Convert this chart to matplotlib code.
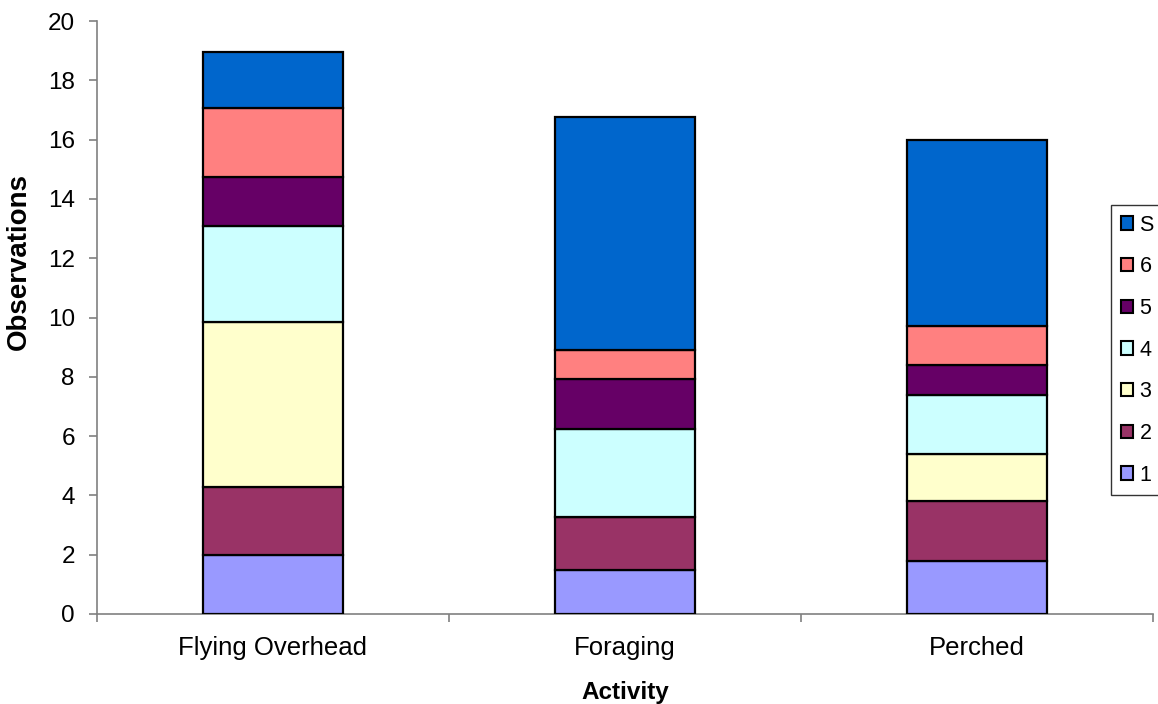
import matplotlib
matplotlib.use("Agg")
import matplotlib.pyplot as plt
from matplotlib.patches import Patch
import numpy as np

plt.rcParams['font.family'] = ['Liberation Sans', 'DejaVu Sans']

activities = ["Flying Overhead", "Foraging", "Perched"]
series_names = ["1", "2", "3", "4", "5", "6", "S"]
s1 = [2.0, 1.5, 1.8]
s2 = [2.27, 1.77, 2.0]
s3 = [5.57, 0.0, 1.6]
s4 = [3.25, 2.96, 2.0]
s5 = [1.65, 1.68, 1.0]
s6 = [2.33, 0.98, 1.3]
sS = [1.88, 7.86, 6.3]
colors = ["#9999FF", "#993366", "#FFFFCC", "#CCFFFF", "#660066", "#FF8080", "#0066CC"]

series = [s1, s2, s3, s4, s5, s6, sS]

fig = plt.figure(figsize=(11.58, 7.04), dpi=100)
ax = fig.add_axes([97 / 1158, 90 / 704, 1056 / 1158, 593 / 704])

x = np.arange(len(activities))
bottom = np.zeros(len(activities))
for vals, col in zip(series, colors):
    v = np.array(vals)
    ax.bar(x, v, width=0.4, bottom=bottom, color=col, edgecolor="black",
           linewidth=1.6, zorder=3)
    bottom += v

ax.set_xlim(-0.5, 2.5)
ax.set_ylim(0, 20)
ax.set_yticks(np.arange(0, 21, 2))
ax.set_xticks(x)
ax.set_xticklabels(activities, fontsize=18.5)
ax.tick_params(axis="x", length=0, pad=16)
ax.set_xticks(np.arange(-0.5, 3.0, 1.0), minor=True)
ax.tick_params(axis="x", which="minor", length=6, color="#808080", width=1.2)
ax.tick_params(axis="y", labelsize=17.5, length=6, color="#808080", width=1.2, pad=10)

for side in ("top", "right"):
    ax.spines[side].set_visible(False)
for side in ("left", "bottom"):
    ax.spines[side].set_color("#808080")
    ax.spines[side].set_linewidth(1.2)

ax.set_ylabel("Observations", fontsize=20, fontweight="bold")
ax.yaxis.set_label_coords(-0.062, 0.594)
ax.set_xlabel("Activity", fontsize=17.5, fontweight="bold", labelpad=15)

handles = [Patch(facecolor=c, edgecolor="black", linewidth=1.5) for c in colors]
leg = fig.legend(handles[::-1], series_names[::-1], loc="upper left",
                 bbox_to_anchor=(1111 / 1158, 1 - 205 / 704),
                 bbox_transform=fig.transFigure,
                 fontsize=15.5, frameon=True, fancybox=False,
                 edgecolor="black", handlelength=0.57, handleheight=0.57,
                 handletextpad=0.3, labelspacing=0.96, borderpad=0.45,
                 borderaxespad=0)
leg.get_frame().set_linewidth(1.0)

fig.savefig("out.png", dpi=100)
